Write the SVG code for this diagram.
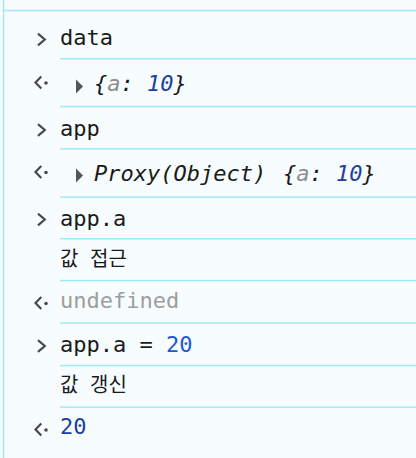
<svg xmlns="http://www.w3.org/2000/svg" width="416" height="458" viewBox="0 0 416 458">
<style>
.bg{fill:#f7fcfe}
.sep{fill:#9fe8f8}
.t{font-family:"DejaVu Sans Mono","Liberation Mono",monospace;font-size:22px;fill:#1a1a1a}
.it{font-style:italic}
.ko{font-family:"Noto Sans CJK KR","Noto Sans",sans-serif;font-size:20px;fill:#1a1a1a}
.key{fill:#8c8c8c}
.num{fill:#1c3fa5}
.numin{fill:#2256d4}
.undef{fill:#9e9e9e}
.chev{fill:none;stroke:#4a4a4a;stroke-width:2.2;stroke-linecap:square;stroke-linejoin:miter}
.dot{fill:#4a4a4a}
.tri{fill:#555}
</style>
<defs>
<polyline id="prompt" class="chev" points="38.8,-5.2 44.8,0 38.8,5.2"/>
<g id="result"><polyline class="chev" points="40.5,-5.2 35.5,0 40.5,5.2"/><circle class="dot" cx="46" cy="0.5" r="1.8"/></g>
<polygon id="expand" class="tri" points="76,-7 83,0 76,7"/>
</defs>
<rect class="bg" x="0" y="0" width="416" height="458"/>
<g id="separators">
<rect class="sep" x="2.8" y="0" width="1.5" height="458"/>
<rect class="sep" x="3" y="9.8" width="413" height="1.5"/>
<rect class="sep" x="60" y="58" width="356" height="1.5"/>
<rect class="sep" x="60" y="105.8" width="356" height="1.5"/>
<rect class="sep" x="60" y="148.1" width="356" height="1.5"/>
<rect class="sep" x="60" y="196.4" width="356" height="1.5"/>
<rect class="sep" x="60" y="238" width="356" height="1.5"/>
<rect class="sep" x="60" y="279.8" width="356" height="1.5"/>
<rect class="sep" x="60" y="322.3" width="356" height="1.5"/>
<rect class="sep" x="60" y="364.8" width="356" height="1.5"/>
<rect class="sep" x="60" y="406.4" width="356" height="1.5"/>
</g>
<g id="row1">
<use href="#prompt" y="39.5"/>
<text class="t" x="60" y="45">data</text>
</g>
<g id="row2">
<use href="#result" y="82.5"/>
<use href="#expand" y="86.5"/>
<text class="t it" x="94" y="91">{<tspan class="key">a</tspan>: <tspan class="num">10</tspan>}</text>
</g>
<g id="row3">
<use href="#prompt" y="130"/>
<text class="t" x="60" y="136">app</text>
</g>
<g id="row4">
<use href="#result" y="172"/>
<use href="#expand" y="175.5"/>
<text class="t it" x="94" y="181">Proxy(Object) <tspan x="283">{</tspan><tspan class="key">a</tspan>: <tspan class="num">10</tspan>}</text>
</g>
<g id="row5">
<use href="#prompt" y="219.5"/>
<text class="t" x="60" y="226">app.a</text>
</g>
<g id="row6">
<text class="ko" x="60" y="265.5">값 <tspan x="90">접근</tspan></text>
</g>
<g id="row7">
<use href="#result" y="303"/>
<text class="t undef" x="60" y="307.5">undefined</text>
</g>
<g id="row8">
<use href="#prompt" y="346"/>
<text class="t" x="60" y="351.5">app.a = <tspan class="numin">20</tspan></text>
</g>
<g id="row9">
<text class="ko" x="60" y="391.5">값 <tspan x="90">갱신</tspan></text>
</g>
<g id="row10">
<use href="#result" y="429.5"/>
<text class="t num" x="60" y="434">20</text>
</g>
</svg>
